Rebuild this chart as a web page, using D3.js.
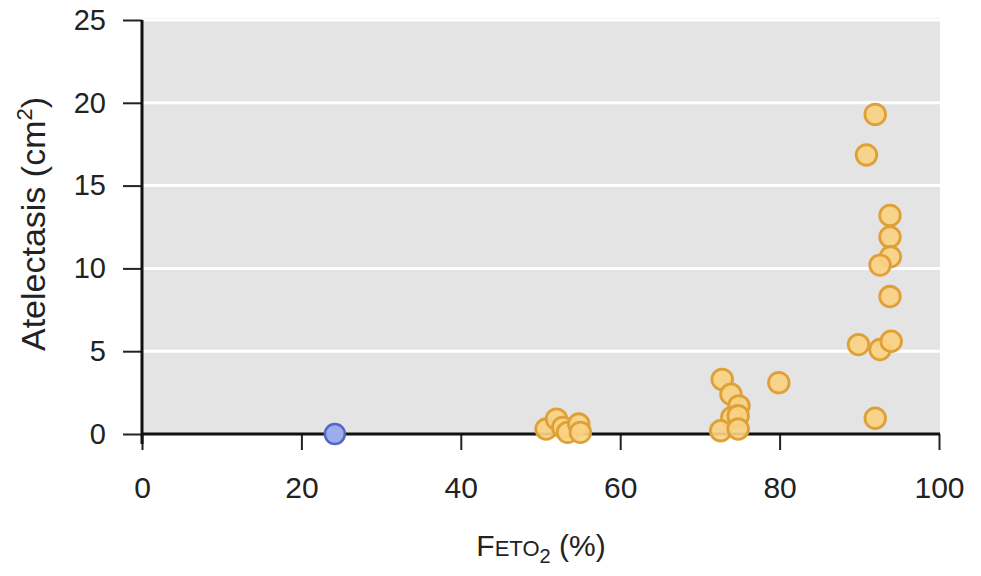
<!DOCTYPE html>
<html><head><meta charset="utf-8">
<script src="https://cdn.jsdelivr.net/npm/d3@7"></script>
<style>html,body{margin:0;padding:0;background:#fff;}svg{display:block;}</style>
</head><body>
<script>
// Data
const xTicks = [0, 20, 40, 60, 80, 100];
const yTicks = [0, 5, 10, 15, 20, 25];
const controlX = [24.2];
const controlY = [0];
const studyX = [50.7, 52.0, 52.8, 53.4, 54.8, 55.0,
                72.8, 73.9, 74.9, 74.0, 74.8, 72.6, 74.8, 79.9,
                92.0, 90.9, 93.85, 93.85, 93.9, 92.6, 93.85, 89.9, 92.6, 94.0, 92.0];
const studyY = [0.3, 0.9, 0.4, 0.1, 0.6, 0.1,
                3.3, 2.4, 1.7, 1.0, 1.1, 0.2, 0.3, 3.1,
                19.3, 16.85, 13.2, 11.9, 10.7, 10.2, 8.3, 5.4, 5.1, 5.6, 0.95];

const W = 981, H = 576;
const svg = d3.select("body").append("svg").attr("width", W).attr("height", H);
const x = d3.scaleLinear().domain([0, 100]).range([142, 939]);
const y = d3.scaleLinear().domain([0, 25]).range([434, 20]);
const font = "Liberation Sans, Arial, Helvetica, sans-serif";

// plot background
svg.append("rect").attr("x", x(0)).attr("y", y(25) - 2)
  .attr("width", x(100) - x(0) + 1).attr("height", y(0) - y(25) + 2)
  .attr("fill", "#e4e4e4");
// gridlines
svg.append("g").selectAll("line").data(yTicks.filter(d => d > 0)).join("line")
  .attr("x1", x(0)).attr("x2", x(100) + 1)
  .attr("y1", d => y(d)).attr("y2", d => y(d))
  .attr("stroke", "#ffffff").attr("stroke-width", 3);

// axes
const yAxis = d3.axisLeft(y).tickValues(yTicks).tickSize(19).tickPadding(17);
const gy = svg.append("g").attr("transform", `translate(${x(0)},0)`).call(yAxis);
gy.select(".domain").remove();
gy.selectAll(".tick line").attr("stroke", "#222").attr("stroke-width", 2);
gy.selectAll(".tick text").attr("font-family", font).attr("font-size", 29).attr("fill", "#222");

const xAxis = d3.axisBottom(x).tickValues(xTicks).tickSize(16).tickPadding(27);
const gx = svg.append("g").attr("transform", `translate(0,${y(0)})`).call(xAxis);
gx.select(".domain").remove();
gx.selectAll(".tick line").attr("stroke", "#222").attr("stroke-width", 2);
gx.selectAll(".tick text").attr("font-family", font).attr("font-size", 30).attr("fill", "#222");

// axis lines
svg.append("line").attr("x1", x(0)).attr("x2", x(0)).attr("y1", y(25)).attr("y2", y(0) + 10)
  .attr("stroke", "#111").attr("stroke-width", 3);
svg.append("line").attr("x1", x(0) - 1).attr("x2", x(100) + 1).attr("y1", y(0)).attr("y2", y(0))
  .attr("stroke", "#111").attr("stroke-width", 3);

// points
const study = studyX.map((d, i) => ({x: d, y: studyY[i]}));
const control = controlX.map((d, i) => ({x: d, y: controlY[i]}));
svg.append("g").selectAll("circle").data(control).join("circle")
  .attr("cx", d => x(d.x)).attr("cy", d => y(d.y)).attr("r", 10)
  .attr("fill", "#9dacec").attr("stroke", "#5567c4").attr("stroke-width", 2.5);
svg.append("g").selectAll("circle").data(study).join("circle")
  .attr("cx", d => x(d.x)).attr("cy", d => y(d.y)).attr("r", 10.3)
  .attr("fill", "#f9d183").attr("fill-opacity", 0.92)
  .attr("stroke", "#dfa036").attr("stroke-width", 2.8);

// y title
const yt = svg.append("text").attr("transform", "translate(45,224) rotate(-90)")
  .attr("text-anchor", "middle").attr("font-family", font).attr("font-size", 34).attr("fill", "#222");
yt.append("tspan").text("Atelectasis (cm");
yt.append("tspan").attr("font-size", 22).attr("dy", -13).text("2");
yt.append("tspan").attr("dy", 13).text(")");

// x title
const xt = svg.append("text").attr("x", 541).attr("y", 556)
  .attr("text-anchor", "middle").attr("font-family", font).attr("font-size", 30).attr("fill", "#222");
xt.append("tspan").text("F");
xt.append("tspan").attr("font-size", 22).text("ETO");
xt.append("tspan").attr("font-size", 20).attr("dy", 7).text("2");
xt.append("tspan").attr("dy", -7).text(" (%)");
</script>
</body></html>
